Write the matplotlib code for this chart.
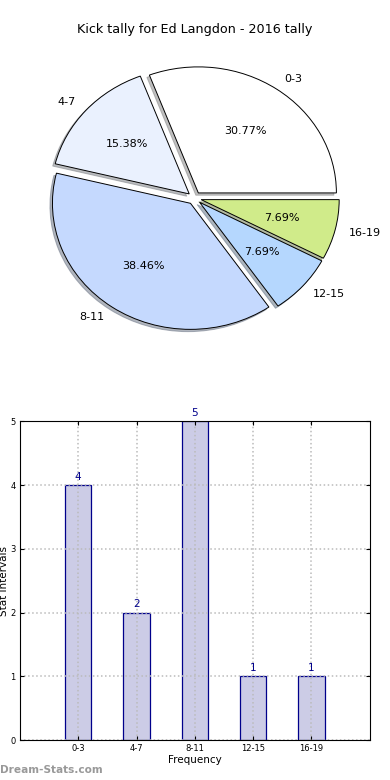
import numpy as np
import matplotlib
matplotlib.use("Agg")
import matplotlib.pyplot as plt

# data
intervals = ["0-3", "4-7", "8-11", "12-15", "16-19"]
kicks = [4, 2, 5, 1, 1]
slice_colors = ["#FFFFFF", "#EAF1FE", "#C5D9FE", "#B5D7FE", "#D0EB8A"]
yticks = [0, 1, 2, 3, 4, 5]

fig = plt.figure(figsize=(3.9, 7.8), dpi=100)

# pie on top
ax1 = fig.add_axes([0.056, 0.544, 0.885, 0.404])
wedges, texts, autotexts = ax1.pie(
    kicks, labels=intervals, colors=slice_colors, autopct="%.2f%%",
    explode=[0.05] * len(kicks),
    shadow={"ox": -0.013, "oy": -0.013, "shade": 0.5},
    startangle=0, counterclock=True, textprops={"fontsize": 8},
    wedgeprops={"edgecolor": "black", "linewidth": 0.7})
ax1.set_aspect("auto")
ax1.set_xlim(-1.25, 1.25)
ax1.set_ylim(-1.25, 1.25)
fig.text(0.5, 0.962, "Kick tally for Ed Langdon - 2016 tally",
         ha="center", va="center", fontsize=9.2)

# bar chart below
ax2 = fig.add_axes([0.051, 0.051, 0.897, 0.409])
xpos = np.arange(1, len(kicks) + 1)
bars = ax2.bar(xpos, kicks, width=0.45, color="#CCCCE6",
               edgecolor="#00008B", linewidth=0.9)
for b, v in zip(bars, kicks):
    ax2.text(b.get_x() + b.get_width() / 2, v + 0.05, str(v),
             ha="center", va="bottom", color="#00008B", fontsize=7.5)
ax2.set_xlim(0, 6)
ax2.set_ylim(0, 5)
ax2.set_xticks(xpos)
ax2.set_xticklabels(intervals)
ax2.set_yticks(yticks)
ax2.tick_params(direction="in", labelsize=6, top=True, right=True,
                length=3, pad=3)
ax2.grid(True, linestyle=":", color="#BBBBBB", linewidth=1.1)
ax2.set_axisbelow(False)
for sp in ax2.spines.values():
    sp.set_zorder(5)
ax2.set_xlabel("Frequency", fontsize=7.5, labelpad=1)
ax2.set_ylabel("Stat Intervals", fontsize=7.5, labelpad=1)

fig.text(0.0, 0.013, "Dream-Stats.com", ha="left", va="center",
         fontsize=7.6, color="#999999", fontweight="bold")

fig.savefig("out.png", dpi=100)
